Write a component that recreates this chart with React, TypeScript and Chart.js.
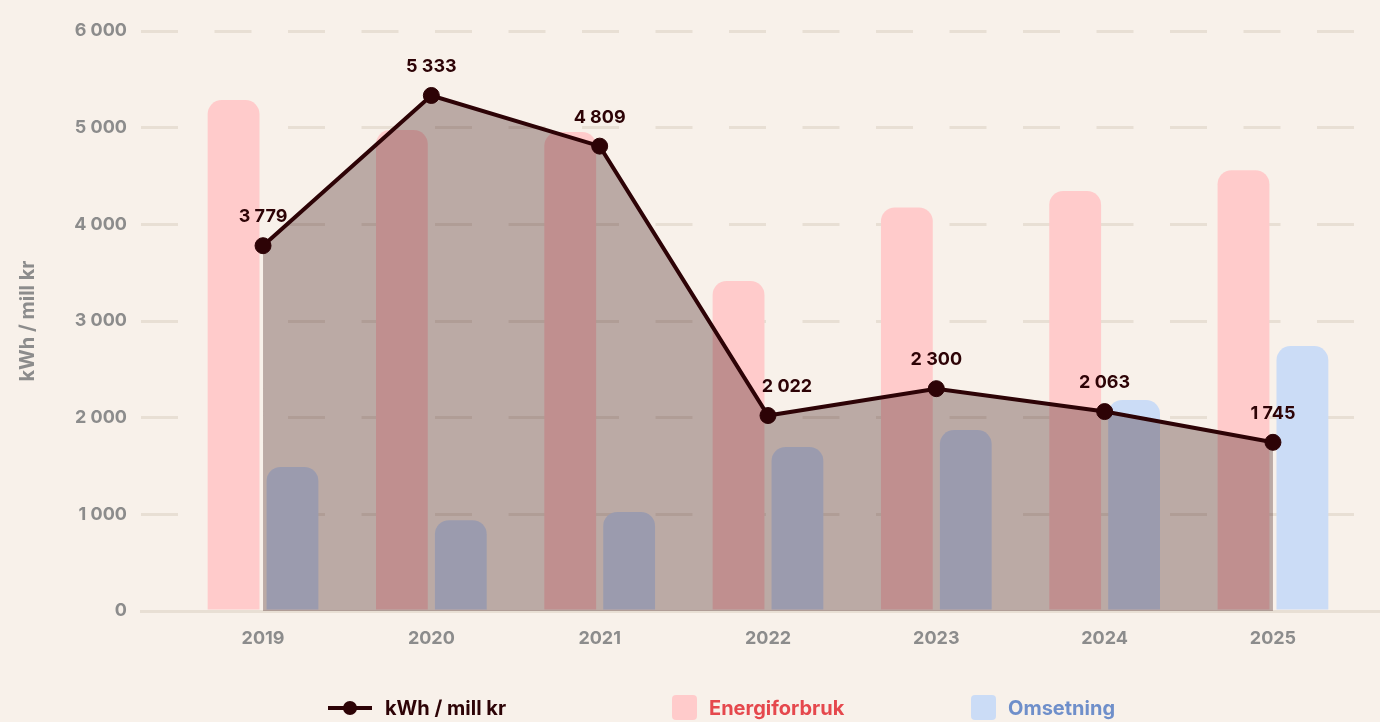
import React, { useEffect, useRef } from 'react';
import { Chart, registerables } from 'chart.js';

Chart.register(...registerables);

// ---- data ----
const years = ['2019', '2020', '2021', '2022', '2023', '2024', '2025'];
const intensity = [3779, 5333, 4809, 2022, 2300, 2063, 1745]; // kWh / mill kr
const energy = [5285, 4975, 4955, 3415, 4175, 4345, 4560]; // Energiforbruk
const revenue = [1490, 940, 1025, 1697, 1872, 2183, 2741]; // Omsetning
const yTicks = [0, 1000, 2000, 3000, 4000, 5000, 6000];

const seriesNames = ['kWh / mill kr', 'Energiforbruk', 'Omsetning'];

// ---- styles ----
const BG = '#f8f1ea';
const LINE = '#2d0306';
const FILL = 'rgba(45, 5, 5, 0.30)';
const PINK = '#ffcbcb';
const BLUE = '#cbdcf6';
const PINK_TEXT = '#e5484d';
const BLUE_TEXT = '#6f8fca';
const GRID = '#e8dfd4';
const TICK = '#8c8c8c';
const FONT = 'Inter, "Noto Sans", sans-serif';

const fmt = (v: number) => String(v).replace(/\B(?=(\d{3})+(?!\d))/g, ' ');

export default function App() {
  const ref = useRef<HTMLCanvasElement | null>(null);

  useEffect(() => {
    document.body.style.margin = '0';
    document.body.style.background = BG;
    if (!ref.current) return;

    const pointLabels = {
      id: 'pointLabels',
      afterDatasetsDraw(chart: any) {
        const meta = chart.getDatasetMeta(0);
        const ctx = chart.ctx;
        ctx.save();
        ctx.font = `bold 18px ${FONT}`;
        ctx.fillStyle = LINE;
        ctx.textAlign = 'center';
        ctx.textBaseline = 'middle';
        const pts = meta.data;
        pts.forEach((el: any, i: number) => {
          const ly = el.y - 29;
          let lx = el.x;
          // nudge the label right when the incoming segment would cross it
          if (i > 0) {
            const prev = pts[i - 1];
            const yAtEdge = el.y + (prev.y - el.y) * (20 / (el.x - prev.x));
            if (yAtEdge < ly + 10) lx += 19;
          }
          ctx.fillText(fmt(intensity[i]), lx, ly);
        });
        ctx.restore();
      },
    };

    const chart = new Chart(ref.current, {
      type: 'bar',
      data: {
        datasets: [
          {
            type: 'line',
            label: seriesNames[0],
            data: intensity.map((y, x) => ({ x, y })),
            order: 0,
            borderColor: LINE,
            borderWidth: 4,
            backgroundColor: FILL,
            fill: 'origin',
            tension: 0,
            pointRadius: 8,
            pointHoverRadius: 8,
            pointBackgroundColor: LINE,
            pointBorderColor: LINE,
            pointBorderWidth: 1,
          } as any,
          {
            type: 'bar',
            label: seriesNames[1],
            data: energy.map((y, x) => ({ x, y })),
            order: 1,
            backgroundColor: PINK,
            borderRadius: 14,
            borderSkipped: 'start',
            categoryPercentage: 0.7,
            barPercentage: 0.88,
          } as any,
          {
            type: 'bar',
            label: seriesNames[2],
            data: revenue.map((y, x) => ({ x, y })),
            order: 2,
            backgroundColor: BLUE,
            borderRadius: 14,
            borderSkipped: 'start',
            categoryPercentage: 0.7,
            barPercentage: 0.88,
          } as any,
        ],
      },
      options: {
        animation: false,
        responsive: true,
        maintainAspectRatio: false,
        layout: { autoPadding: false, padding: { top: 31, right: 0, bottom: 0, left: 0 } },
        plugins: {
          legend: { display: false },
          tooltip: { enabled: false },
        },
        scales: {
          x: {
            type: 'linear',
            offset: false,
            min: -0.725,
            max: 6.636,
            grid: { display: false, drawTicks: false, offset: false },
            border: { display: true, color: GRID, width: 3 },
            afterBuildTicks: (axis: any) => {
              axis.ticks = years.map((_, i) => ({ value: i }));
            },
            afterFit: (s: any) => {
              s.height = 111;
            },
            ticks: {
              autoSkip: false,
              maxRotation: 0,
              padding: 17,
              color: TICK,
              font: { family: FONT, size: 18, weight: 'bold' },
              callback: (v: any) => years[v] ?? '',
            },
          },
          y: {
            type: 'linear',
            min: 0,
            max: 6000,
            afterBuildTicks: (axis: any) => {
              axis.ticks = yTicks.map((value) => ({ value }));
            },
            afterFit: (s: any) => {
              s.width = 141;
            },
            grid: { color: GRID, lineWidth: 3, drawTicks: false },
            border: { display: false, dash: [37, 36.5] },
            ticks: {
              padding: 14,
              color: TICK,
              font: { family: FONT, size: 18, weight: 'bold' },
              callback: (v: any) => fmt(Number(v)),
            },
            title: {
              display: true,
              text: seriesNames[0],
              color: TICK,
              font: { family: FONT, size: 20, weight: 'bold' },
              padding: { top: 16, bottom: 0 },
            },
          },
        },
      },
      plugins: [pointLabels],
    } as any);

    return () => chart.destroy();
  }, []);

  const legendItem: React.CSSProperties = {
    position: 'absolute',
    top: 695,
    height: 25,
    display: 'flex',
    alignItems: 'center',
    fontFamily: FONT,
    fontWeight: 700,
    fontSize: 20,
    whiteSpace: 'nowrap',
  };
  const box = (c: string): React.CSSProperties => ({
    width: 25,
    height: 25,
    borderRadius: 4,
    background: c,
    marginRight: 12,
    flex: 'none',
  });

  return (
    <div style={{ position: 'relative', width: 1380, height: 722, background: BG, overflow: 'hidden' }}>
      <canvas ref={ref} style={{ display: 'block' }} />
      <div style={{ ...legendItem, left: 328, color: LINE }}>
        <div style={{ position: 'relative', width: 44, height: 4, background: LINE, marginRight: 13, flex: 'none' }}>
          <div
            style={{
              position: 'absolute',
              left: 15,
              top: -5,
              width: 14,
              height: 14,
              borderRadius: '50%',
              background: LINE,
            }}
          />
        </div>
        {seriesNames[0]}
      </div>
      <div style={{ ...legendItem, left: 672, color: PINK_TEXT }}>
        <div style={box(PINK)} />
        {seriesNames[1]}
      </div>
      <div style={{ ...legendItem, left: 971, color: BLUE_TEXT }}>
        <div style={box(BLUE)} />
        {seriesNames[2]}
      </div>
    </div>
  );
}
